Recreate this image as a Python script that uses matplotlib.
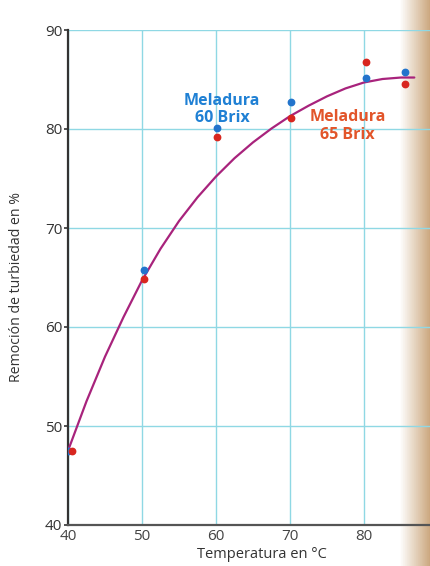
import matplotlib.pyplot as plt
import numpy as np

temp_60 = [40, 50.3, 60.2, 70.2, 80.3, 85.5]
remocion_60 = [47.5, 65.8, 80.1, 82.7, 85.2, 85.8]
temp_65 = [40.6, 50.3, 60.2, 70.2, 80.3, 85.5]
remocion_65 = [47.5, 64.8, 79.2, 81.1, 86.8, 84.5]

# Trend curve
curve_temp = [40, 42.5, 45, 47.5, 50, 52.5, 55, 57.5, 60, 62.5, 65, 67.5,
              70, 72.5, 75, 77.5, 80, 82.5, 85, 86.8]
curve_rem = [47.5, 52.5, 57.0, 61.0, 64.7, 67.9, 70.7, 73.1, 75.2, 77.05,
             78.65, 80.05, 81.3, 82.35, 83.3, 84.1, 84.7, 85.05, 85.2, 85.2]

x_ticks = [40, 50, 60, 70, 80, 90]
y_ticks = [40, 50, 60, 70, 80, 90]

plt.rcParams['font.family'] = ['Open Sans', 'DejaVu Sans']

fig = plt.figure(figsize=(4.31, 5.66), dpi=100)

# scanned page shadow on the right edge
shade = fig.add_axes([0, 0, 1, 1], zorder=-5)
grad = np.linspace(0, 1, 200)
grad = np.clip((grad - 0.93) / 0.07, 0, 1)
img = np.ones((2, 200, 3))
tan = np.array([0.80, 0.66, 0.50])
for i in range(3):
    img[:, :, i] = 1 - grad * (1 - tan[i])
shade.imshow(img, aspect='auto', extent=[0, 1, 0, 1])
shade.axis('off')

ax = fig.add_axes([68 / 431, 1 - 525 / 566, 370 / 431, 495 / 566])
ax.patch.set_alpha(0)

ax.plot(curve_temp, curve_rem, color='#a8237c', lw=1.6, zorder=3,
        solid_joinstyle='round', solid_capstyle='round')
ax.plot(temp_60, remocion_60, 'o', color='#2274cc', ms=4.6, zorder=4)
ax.plot(temp_65, remocion_65, 'o', color='#d8261f', ms=4.6, zorder=4)

ax.text(60.8, 82.0, 'Meladura\n60 Brix', color='#1f80d4', fontsize=11.5,
        fontweight='bold', ha='center', va='center', linespacing=1.1)
ax.text(77.8, 80.3, 'Meladura\n65 Brix', color='#e2552a', fontsize=11.5,
        fontweight='bold', ha='center', va='center', linespacing=1.1)

ax.set_xlim(40, 90)
ax.set_ylim(40, 90)
ax.set_xticks(x_ticks)
ax.set_yticks(y_ticks)
ax.grid(True, color='#8fd8e4', lw=1.0)
ax.set_axisbelow(True)

for side in ['top', 'right']:
    ax.spines[side].set_visible(False)
ax.spines['left'].set_color('#333333')
ax.spines['bottom'].set_color('#555555')
ax.spines['left'].set_linewidth(1.6)
ax.spines['bottom'].set_linewidth(1.6)

ax.tick_params(axis='y', length=3, width=1.2, color='#333333',
               labelsize=11, labelcolor='#333333', pad=1)
ax.tick_params(axis='x', length=0, labelsize=11, labelcolor='#444444', pad=3)

ax.set_xlabel('Temperatura en °C', fontsize=10.5, color='#333333')
ax.xaxis.set_label_coords(0.524, -0.045)
ax.set_ylabel('Remoción de turbiedad en %', fontsize=10.2, color='#333333')
ax.yaxis.set_label_coords(-0.119, 0.48)

fig.savefig('out.png', dpi=100)
